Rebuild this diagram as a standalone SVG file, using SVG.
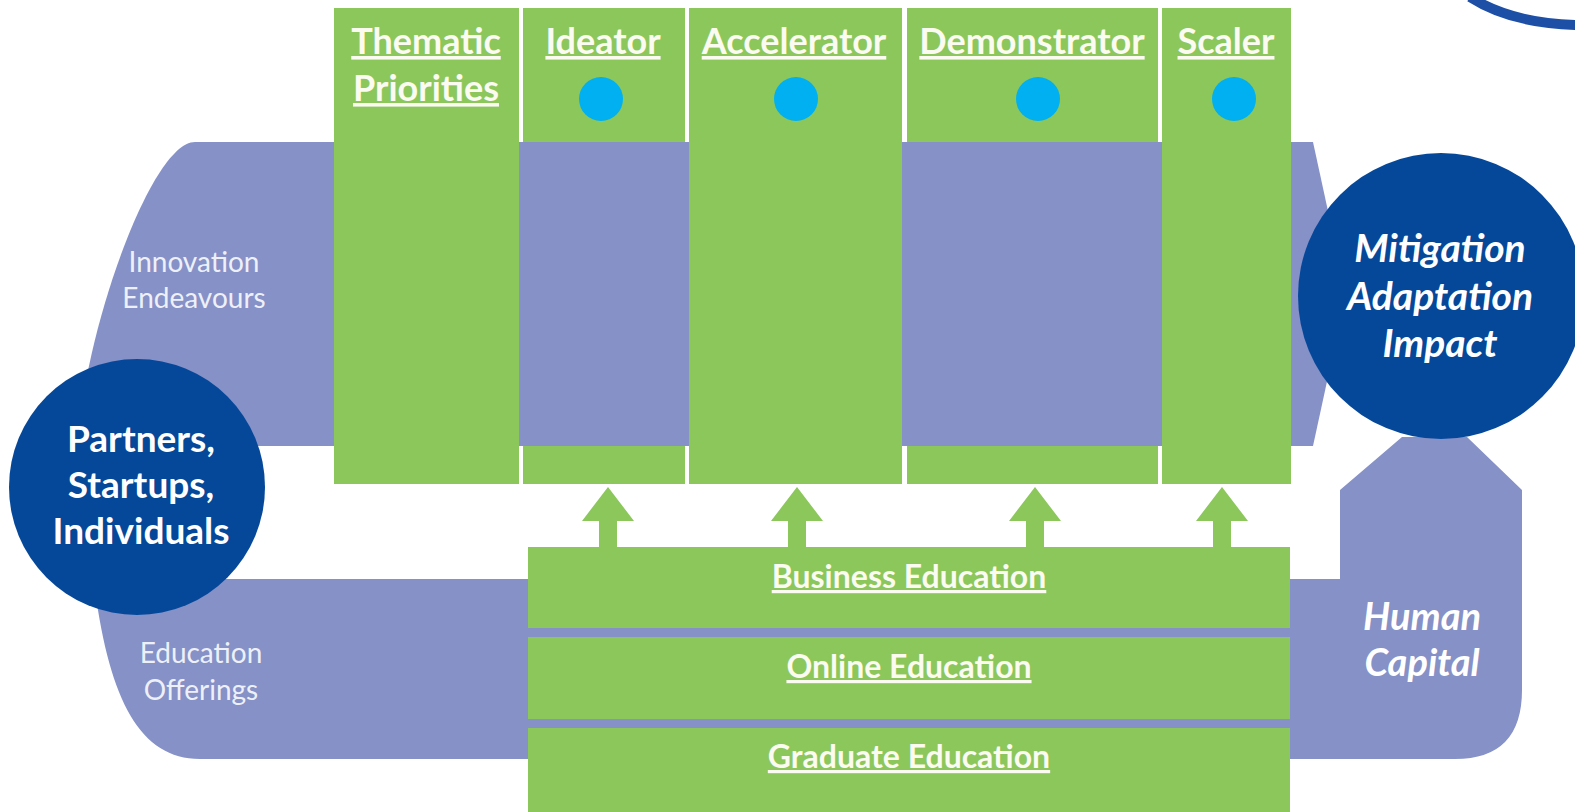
<svg xmlns="http://www.w3.org/2000/svg" width="1575" height="812" viewBox="0 0 1575 812">
<style>
.band{fill:#8591c7}
.green{fill:#8cc75b}
.dot{fill:#00b0f0}
.navy{fill:#05489a}
.hdr{font-family:Lato,"Open Sans",sans-serif;font-weight:bold;font-size:36px;fill:#fbfbf2;text-anchor:middle;text-decoration:underline}
.edu{font-family:Lato,"Open Sans",sans-serif;font-weight:bold;font-size:32px;fill:#fbfbf2;text-anchor:middle;text-decoration:underline}
.lbl{font-family:Lato,"Open Sans",sans-serif;font-size:28px;fill:#eef0f8;text-anchor:middle}
.big{font-family:Lato,"Open Sans",sans-serif;font-weight:bold;font-size:37px;fill:#ffffff;text-anchor:middle}
.bigi{font-family:Lato,"Open Sans",sans-serif;font-weight:bold;font-style:italic;font-size:39px;fill:#ffffff;text-anchor:middle}
.hc{font-size:38px}
.arrow{fill:#8cc75b}
</style>
<rect width="1575" height="812" fill="#ffffff"/>
<path d="M1470 -3 C1495 13 1530 24 1578 25" fill="none" stroke="#1d4fa6" stroke-width="10"/>
<g id="innovation-band">
<path class="band" d="M195 142 L1313 142 L1346 294 L1313 446 L78 446 C82 340 150 142 195 142 Z"/>
<text class="lbl" x="194" y="272">Innovation</text>
<text class="lbl" x="194" y="308">Endeavours</text>
</g>
<g id="education-band">
<path class="band" d="M95 579 L1340 579 L1340 490 L1402 437 L1467 437 L1522 490 L1522 690 Q1522 759 1455 759 L200 759 C140 759 110 700 95 590 Z"/>
<text class="lbl" x="201" y="663">Education</text>
<text class="lbl" x="201" y="700">Offerings</text>
<text class="bigi hc" x="1422" y="630">Human</text>
<text class="bigi hc" x="1422" y="676">Capital</text>
</g>
<g id="thematic">
<rect class="green" x="334" y="8" width="185" height="476"/>
<text class="hdr" x="426" y="54">Thematic</text>
<text class="hdr" x="426" y="101">Priorities</text>
</g>
<g id="ideator">
<rect class="green" x="523" y="8" width="162" height="134"/>
<rect class="green" x="523" y="446" width="162" height="38"/>
<text class="hdr" x="603" y="54">Ideator</text>
<circle class="dot" cx="601" cy="99" r="22"/>
</g>
<g id="accelerator">
<rect class="green" x="689" y="8" width="213" height="476"/>
<text class="hdr" x="794" y="54">Accelerator</text>
<circle class="dot" cx="796" cy="99" r="22"/>
</g>
<g id="demonstrator">
<rect class="green" x="907" y="8" width="251" height="134"/>
<rect class="green" x="907" y="446" width="251" height="38"/>
<text class="hdr" x="1032" y="54">Demonstrator</text>
<circle class="dot" cx="1038" cy="99" r="22"/>
</g>
<g id="scaler">
<rect class="green" x="1162" y="8" width="129" height="476"/>
<text class="hdr" x="1226" y="54">Scaler</text>
<circle class="dot" cx="1234" cy="99" r="22"/>
</g>
<g id="connectors">
<path class="arrow" d="M608 487 L634 521 L617 521 L617 550 L599 550 L599 521 L582 521 Z"/>
<path class="arrow" d="M797 487 L823 521 L806 521 L806 550 L788 550 L788 521 L771 521 Z"/>
<path class="arrow" d="M1035 487 L1061 521 L1044 521 L1044 550 L1026 550 L1026 521 L1009 521 Z"/>
<path class="arrow" d="M1222 487 L1248 521 L1231 521 L1231 550 L1213 550 L1213 521 L1196 521 Z"/>
</g>
<g id="business-education">
<rect class="green" x="528" y="547" width="762" height="81"/>
<text class="edu" x="909" y="588">Business Education</text>
</g>
<g id="online-education">
<rect class="green" x="528" y="637" width="762" height="82"/>
<text class="edu" x="909" y="678">Online Education</text>
</g>
<g id="graduate-education">
<rect class="green" x="528" y="728" width="762" height="84"/>
<text class="edu" x="909" y="768">Graduate Education</text>
</g>
<g id="partners">
<circle class="navy" cx="137" cy="487" r="128"/>
<text class="big" x="141" y="452">Partners,</text>
<text class="big" x="141" y="498">Startups,</text>
<text class="big" x="141" y="544">Individuals</text>
</g>
<g id="impact">
<circle class="navy" cx="1441" cy="296" r="143"/>
<text class="bigi" x="1440" y="262">Mitigation</text>
<text class="bigi" x="1440" y="310">Adaptation</text>
<text class="bigi" x="1440" y="357">Impact</text>
</g>
</svg>
